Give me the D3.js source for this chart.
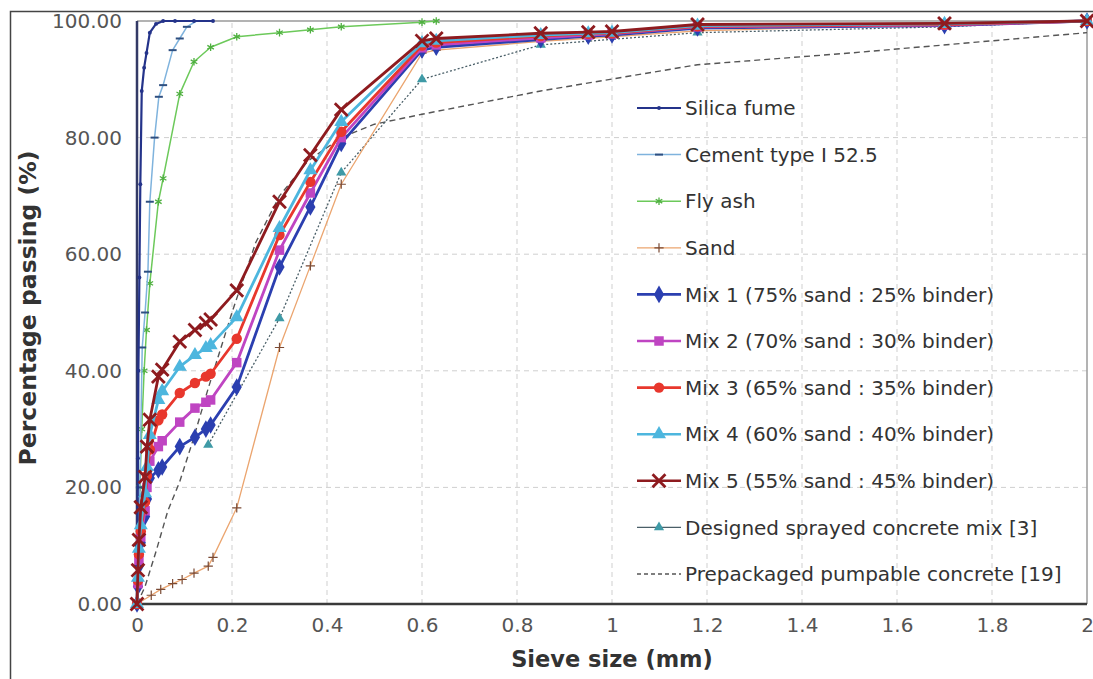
<!DOCTYPE html>
<html>
<head>
<meta charset="utf-8">
<script src="https://cdn.jsdelivr.net/npm/d3@7"></script>
<style>
  html, body { margin: 0; padding: 0; background: #fff; }
  svg { display: block; font-family: "DejaVu Sans", sans-serif; }
</style>
</head>
<body>
<div id="chart"></div>
<script>
// === Datos ===
const X_TICKS = [0, 0.2, 0.4, 0.6, 0.8, 1, 1.2, 1.4, 1.6, 1.8, 2];
const Y_TICKS = [0, 20, 40, 60, 80, 100];

const SILICA_X = [0, 0.001, 0.002, 0.003, 0.005, 0.007, 0.01, 0.015, 0.02, 0.027, 0.04, 0.055, 0.08, 0.12, 0.16];
const SILICA_Y = [0, 10, 25, 40, 56, 72, 88, 92, 94.5, 98, 99.5, 100, 100, 100, 100];

const CEMENT_X = [0, 0.003, 0.006, 0.011, 0.017, 0.023, 0.027, 0.037, 0.046, 0.055, 0.075, 0.09, 0.105, 0.125, 0.15];
const CEMENT_Y = [0, 10, 20, 44, 50, 57, 69, 80, 87, 89, 95, 97, 99, 100, 100];

const FLYASH_X = [0, 0.003, 0.006, 0.01, 0.015, 0.02, 0.027, 0.045, 0.055, 0.09, 0.12, 0.155, 0.21, 0.3, 0.365, 0.43, 0.6, 0.63];
const FLYASH_Y = [0, 10, 20, 30, 40, 47, 55, 69, 73, 87.5, 93, 95.5, 97.3, 98, 98.5, 99, 99.8, 100];

const SAND_X = [0, 0.03, 0.05, 0.075, 0.095, 0.12, 0.15, 0.16, 0.21, 0.3, 0.365, 0.43, 0.6, 0.63, 0.85, 1.0, 1.18, 1.7, 2.0];
const SAND_Y = [0, 1.5, 2.5, 3.5, 4.2, 5.3, 6.5, 8, 16.5, 44, 58, 72, 94.5, 95, 96.5, 97.3, 98.3, 99.5, 100];

const MIX_X = [0, 0.002, 0.004, 0.008, 0.017, 0.021, 0.027, 0.045, 0.053, 0.09, 0.122, 0.145, 0.155, 0.21, 0.3, 0.365, 0.43, 0.6, 0.63, 0.85, 0.95, 1.0, 1.18, 1.7, 2.0];
const MIX1_Y = [0, 3, 6.5, 10.5, 15, 18, 21.6, 23, 23.5, 27, 28.6, 30, 30.7, 37.2, 57.8, 68.1, 79, 95, 95.5, 96.8, 97.4, 97.6, 98.8, 99.2, 100];
const MIX2_Y = [0, 3.5, 7.5, 11.5, 16, 20, 24.5, 27, 28, 31.2, 33.6, 34.6, 35, 41.4, 60.7, 70.5, 80, 95.4, 95.9, 97.1, 97.6, 97.8, 99, 99.3, 100];
const MIX3_Y = [0, 4, 8.5, 12.5, 17.5, 22, 26.5, 31.5, 32.5, 36.2, 37.9, 39, 39.5, 45.5, 63.3, 72.4, 81, 95.8, 96.3, 97.4, 97.8, 97.9, 99.1, 99.4, 100];
const MIX4_Y = [0, 4.5, 9.5, 13.5, 19, 23.5, 29, 35, 36.5, 40.7, 42.7, 43.9, 44.4, 49.2, 64.5, 74.4, 82.7, 96.2, 96.6, 97.6, 97.9, 98, 99.2, 99.5, 100];
const MIX5_Y = [0, 5.8, 11, 16.6, 21.8, 27, 31.6, 39, 40.2, 45, 47, 48.2, 48.8, 53.8, 69, 77, 84.8, 96.6, 97, 97.9, 98.1, 98.2, 99.4, 99.6, 100];

const SPRAYED_X = [0.15, 0.3, 0.43, 0.6, 0.85, 1.18, 1.7, 2.0];
const SPRAYED_Y = [27.3, 49, 74, 90, 95.9, 98, 99, 100];

const PREPACK_X = [0, 0.017, 0.04, 0.065, 0.09, 0.116, 0.15, 0.2, 0.25, 0.3, 0.36, 0.43, 0.5, 0.6, 0.85, 1.18, 1.5, 2.0];
const PREPACK_Y = [0, 3, 9, 16, 21, 27.6, 37, 50, 62, 70, 76, 80, 82.3, 84, 88, 92.5, 94.5, 98];

const LABELS = [
  "Silica fume", "Cement type I 52.5", "Fly ash", "Sand",
  "Mix 1 (75% sand : 25% binder)", "Mix 2 (70% sand : 30% binder)",
  "Mix 3 (65% sand : 35% binder)", "Mix 4 (60% sand : 40% binder)",
  "Mix 5 (55% sand : 45% binder)", "Designed sprayed concrete mix [3]",
  "Prepackaged pumpable concrete [19]"
];

const zip = (xs, ys) => xs.map((x, i) => ({ x, y: ys[i] }));

// series: estilo de línea + marcador (orden de dibujo: mix 5 encima)
const series = [
  { label: LABELS[10], pts: zip(PREPACK_X, PREPACK_Y), stroke: "#555", width: 1.4, dash: "6,4", legDash: "4,3", marker: null },
  { label: LABELS[9], pts: zip(SPRAYED_X, SPRAYED_Y), stroke: "#4a5f68", width: 1.3, dash: "2,2", legDash: null,
    marker: { type: d3.symbolTriangle, size: 45, fill: "#3f9aa6", stroke: "none" } },
  { label: LABELS[3], pts: zip(SAND_X, SAND_Y), stroke: "#eba56f", width: 1.3, dash: null,
    marker: { type: d3.symbolPlus, size: 30, fill: "none", stroke: "#7a4a34", sw: 1.2 } },
  { label: LABELS[2], pts: zip(FLYASH_X, FLYASH_Y), stroke: "#6cc95a", width: 1.5, dash: null,
    marker: { type: d3.symbolAsterisk, size: 40, fill: "none", stroke: "#4fb040", sw: 1.3 } },
  { label: LABELS[1], pts: zip(CEMENT_X, CEMENT_Y), stroke: "#7fb3dd", width: 1.5, dash: null,
    marker: { type: "dash", size: 8, fill: "none", stroke: "#2e4f80", sw: 2 } },
  { label: LABELS[0], pts: zip(SILICA_X, SILICA_Y), stroke: "#24338a", width: 2.2, dash: null,
    marker: { type: d3.symbolCircle, size: 12, fill: "#24338a", stroke: "none" } },
  { label: LABELS[4], pts: zip(MIX_X, MIX1_Y), stroke: "#2b3fb0", width: 2.8, dash: null,
    marker: { type: d3.symbolDiamond, size: 90, fill: "#2b3fb0", stroke: "none" } },
  { label: LABELS[5], pts: zip(MIX_X, MIX2_Y), stroke: "#bf45c2", width: 2.8, dash: null,
    marker: { type: d3.symbolSquare, size: 90, fill: "#bf45c2", stroke: "none" } },
  { label: LABELS[6], pts: zip(MIX_X, MIX3_Y), stroke: "#e8372d", width: 2.8, dash: null,
    marker: { type: d3.symbolCircle, size: 85, fill: "#e8372d", stroke: "none" } },
  { label: LABELS[7], pts: zip(MIX_X, MIX4_Y), stroke: "#4db6de", width: 2.8, dash: null,
    marker: { type: d3.symbolTriangle, size: 85, fill: "#4db6de", stroke: "none" } },
  { label: LABELS[8], pts: zip(MIX_X, MIX5_Y), stroke: "#8e1b1f", width: 2.8, dash: null,
    marker: { type: d3.symbolTimes, size: 110, fill: "none", stroke: "#8e1b1f", sw: 2.8 } }
];

const W = 1093, H = 679;
const M = { left: 137, right: 1087, top: 21, bottom: 604 };

const svg = d3.select("#chart").append("svg").attr("width", W).attr("height", H);

// marco exterior de la figura
svg.append("rect")
  .attr("x", 10.5).attr("y", 11.5).attr("width", 1200).attr("height", 800)
  .attr("fill", "none").attr("stroke", "#444").attr("stroke-width", 1.5);

const x = d3.scaleLinear().domain([0, 2]).range([M.left, M.right]);
const y = d3.scaleLinear().domain([0, 100]).range([M.bottom, M.top]);

// rejilla
svg.append("g").selectAll("line")
  .data(X_TICKS.filter(t => t > 0 && t < 2))
  .join("line")
    .attr("x1", d => x(d)).attr("x2", d => x(d))
    .attr("y1", y(0)).attr("y2", y(100))
    .attr("stroke", "#cfcfcf").attr("stroke-width", 1).attr("stroke-dasharray", "5,4");
svg.append("g").selectAll("line")
  .data(Y_TICKS.filter(t => t > 0 && t < 100))
  .join("line")
    .attr("x1", x(0)).attr("x2", x(2))
    .attr("y1", d => y(d)).attr("y2", d => y(d))
    .attr("stroke", "#cfcfcf").attr("stroke-width", 1).attr("stroke-dasharray", "5,4");

// borde superior y derecho del área de trazado
svg.append("path")
  .attr("d", `M${x(0)},${y(100)}H${x(2)}V${y(0)}`)
  .attr("fill", "none").attr("stroke", "#9a9a9a").attr("stroke-width", 1.5);

// ejes
const yAxis = svg.append("g")
  .attr("transform", `translate(${x(0)},0)`)
  .call(d3.axisLeft(y).tickValues(Y_TICKS).tickFormat(d3.format(".2f")).tickSize(0).tickPadding(15));
const xAxis = svg.append("g")
  .attr("transform", `translate(0,${y(0)})`)
  .call(d3.axisBottom(x).tickValues(X_TICKS).tickFormat(d3.format("")).tickSize(0).tickPadding(14));
[xAxis, yAxis].forEach(a => {
  a.select(".domain").remove();
  a.selectAll("text").attr("font-size", 20).attr("fill", "#555")
    .attr("font-family", "DejaVu Sans, sans-serif");
});

svg.append("line")
  .attr("x1", x(0)).attr("x2", x(2)).attr("y1", y(0)).attr("y2", y(0))
  .attr("stroke", "#3a3a3a").attr("stroke-width", 2.5);
svg.append("line")
  .attr("x1", x(0)).attr("x2", x(0)).attr("y1", y(0)).attr("y2", y(100))
  .attr("stroke", "#333a66").attr("stroke-width", 2.5);

// títulos de ejes
svg.append("text")
  .attr("x", x(1)).attr("y", 667)
  .attr("text-anchor", "middle").attr("font-size", 22.5).attr("font-weight", "bold").attr("fill", "#333")
  .text("Sieve size (mm)");
svg.append("text")
  .attr("transform", `translate(36,308) rotate(-90)`)
  .attr("text-anchor", "middle").attr("font-size", 23.5).attr("font-weight", "bold").attr("fill", "#333")
  .text("Percentage passing (%)");

// marcadores
function markerPath(m) {
  if (m.type === "dash") return `M${-m.size / 2},0H${m.size / 2}`;
  return d3.symbol().type(m.type).size(m.size)();
}
function drawMarker(sel, m) {
  sel.attr("d", markerPath(m))
    .attr("fill", m.fill)
    .attr("stroke", m.stroke)
    .attr("stroke-width", m.sw || 0);
}

const line = d3.line().x(d => x(d.x)).y(d => y(d.y));

series.forEach(s => {
  const g = svg.append("g");
  g.append("path")
    .attr("d", line(s.pts))
    .attr("fill", "none")
    .attr("stroke", s.stroke)
    .attr("stroke-width", s.width)
    .attr("stroke-dasharray", s.dash)
    .attr("stroke-linejoin", "round");
  if (s.marker) {
    g.selectAll("path.mk")
      .data(s.pts)
      .join("path")
        .attr("class", "mk")
        .attr("transform", d => `translate(${x(d.x)},${y(d.y)})`)
        .call(drawMarker, s.marker);
  }
});

// leyenda (sin caja, en el orden original)
const legendOrder = [5, 4, 3, 2, 6, 7, 8, 9, 10, 1, 0];
const leg = svg.append("g");
legendOrder.forEach((si, i) => {
  const s = series[si];
  const ly = 108 + i * 46.6;
  const row = leg.append("g").attr("transform", `translate(0,${ly})`);
  row.append("line")
    .attr("x1", 637).attr("x2", 681).attr("y1", 0).attr("y2", 0)
    .attr("stroke", s.stroke)
    .attr("stroke-width", Math.min(s.width, 2.6))
    .attr("stroke-dasharray", s.legDash || null);
  if (s.marker) {
    row.append("path")
      .attr("transform", "translate(659,0)")
      .call(drawMarker, s.marker);
  }
  row.append("text")
    .attr("x", 685).attr("y", 0).attr("dy", "0.36em")
    .attr("font-size", 20).attr("fill", "#333")
    .text(s.label);
});
</script>
</body>
</html>
